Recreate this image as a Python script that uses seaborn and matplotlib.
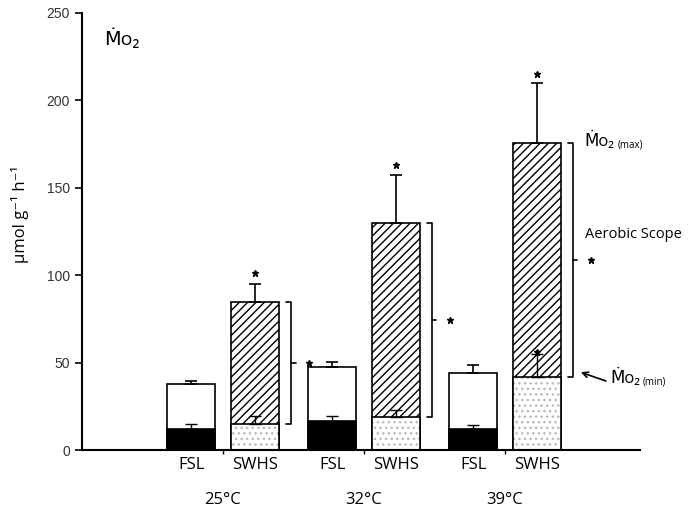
import numpy as np
import pandas as pd
import seaborn as sns
import matplotlib.pyplot as plt
from matplotlib.colors import to_rgba

temps = ['25°C', '32°C', '39°C']
groups = ['FSL', 'SWHS']

# MO2 max (top of bar) and min (lower segment), with SE
fsl_max = [37.6, 47.7, 44.2]
fsl_max_err = [1.9, 2.8, 4.4]
fsl_min = [11.8, 16.4, 11.8]
fsl_min_err = [3.1, 2.9, 2.5]
swhs_max = [84.5, 129.7, 175.5]
swhs_max_err = [10.3, 27.6, 34.3]
swhs_min = [14.9, 19.0, 42.0]
swhs_min_err = [4.7, 3.9, 13.0]
swhs_star = [101, 163, 215]

sns.set_style('ticks')
plt.rcParams['font.family'] = ['Open Sans', 'DejaVu Sans']
plt.rcParams['hatch.linewidth'] = 1.0
plt.rcParams['text.color'] = 'black'

off = 0.225
pos = []
for g in range(3):
    pos += [g - off, g + off]

df_max = pd.DataFrame({'x': pos, 'y': [v for p in zip(fsl_max, swhs_max) for v in p]})
df_min = pd.DataFrame({'x': pos, 'y': [v for p in zip(fsl_min, swhs_min) for v in p]})
err_max = [v for p in zip(fsl_max_err, swhs_max_err) for v in p]
err_min = [v for p in zip(fsl_min_err, swhs_min_err) for v in p]

fig = plt.figure(figsize=(7, 5.15), dpi=100)
ax = fig.add_axes([0.117, 0.126, 0.797, 0.849])

w = 0.755
sns.barplot(data=df_max, x='x', y='y', native_scale=True, width=w, color='white',
            edgecolor='black', linewidth=1.2, errorbar=None, ax=ax)
n = len(ax.patches)
for i, p in enumerate(ax.patches):
    p.set_facecolor('white')
    p.set_edgecolor('black')
    if i % 2 == 1:
        p.set_hatch('////')

sns.barplot(data=df_min, x='x', y='y', native_scale=True, width=w, color='white',
            edgecolor='black', linewidth=1.2, errorbar=None, ax=ax)
for i, p in enumerate(ax.patches[n:]):
    p.set_edgecolor('black')
    if i % 2 == 0:
        p.set_facecolor('black')
    else:
        p.set_facecolor('white')
        p.set_hatch('...')
        if hasattr(p, 'set_hatchcolor'):
            p.set_hatchcolor('#b8b8b8')
        else:
            p._hatch_color = to_rgba('#b8b8b8')

ax.errorbar(pos, df_max['y'], yerr=[np.zeros(6), err_max], fmt='none', ecolor='black',
            elinewidth=1.2, capsize=4, capthick=1.2, zorder=5)
ax.errorbar(pos, df_min['y'], yerr=[np.zeros(6), err_min], fmt='none', ecolor='black',
            elinewidth=1.0, capsize=4, capthick=1.0, zorder=5)

# significance stars above SWHS bars
swhs_pos = pos[1::2]
ax.plot(swhs_pos, swhs_star, ls='none', marker='*', ms=5, color='black')
ax.plot([swhs_pos[2]], [swhs_min[2] + 14], ls='none', marker='*', ms=4.5, color='black')

# brackets for aerobic scope
bw = 0.34
for x, lo, hi in zip(swhs_pos, swhs_min, swhs_max):
    bx = x + bw / 2 + 0.085
    ax.plot([bx - 0.035, bx, bx, bx - 0.035], [hi, hi, lo, lo], color='black', lw=1.2)
    mid = (lo + hi) / 2
    ax.plot([bx, bx + 0.035], [mid, mid], color='black', lw=1.2)
    ax.plot([bx + 0.13], [mid], marker='*', ms=4.5, color='black')

ax.set_xlim(-1.0, 2.957)
ax.set_ylim(0, 250)
ax.set_yticks([0, 50, 100, 150, 200, 250])
ax.set_yticklabels(['0', '50', '100', '150', '200', '250'], family='Liberation Sans',
                   fontsize=10, color='#333333')
ax.set_xticks([0, 1, 2])
ax.set_xticklabels([])
ax.tick_params(axis='x', length=3, width=1, color='black')
ax.tick_params(axis='y', length=5, width=1.2, color='black')
ax.set_xlabel('')
ax.set_ylabel('μmol g⁻¹ h⁻¹', fontsize=12, color='black')
ax.yaxis.set_label_coords(-0.095, 0.54)
sns.despine(ax=ax)
for s in ['left', 'bottom']:
    ax.spines[s].set_linewidth(1.5)
    ax.spines[s].set_color('black')

trans = ax.get_xaxis_transform()
for x, lab in zip(pos, groups * 3):
    ax.annotate(lab, (x, 0), xycoords=trans, xytext=(0, -15), textcoords='offset pixels',
                ha='center', va='center', fontsize=12)
for g, t in enumerate(temps):
    ax.annotate(t, (g, 0), xycoords=trans, xytext=(0, -50), textcoords='offset pixels',
                ha='center', va='center', fontsize=12)

ax.text(-0.84, 235, 'Ṁo₂', fontsize=14, va='center')

ax.text(2.567, swhs_max[2] + 1, 'Ṁo₂', fontsize=12, va='center')
ax.annotate('(max)', (2.567, swhs_max[2] + 1), xytext=(33, -4), textcoords='offset pixels',
            fontsize=7, va='center')
ax.text(2.567, 123, 'Aerobic Scope', fontsize=10.5, va='center')
ax.annotate('', xy=(2.52, swhs_min[2] + 3), xytext=(2.735, swhs_min[2] - 3),
            arrowprops=dict(arrowstyle='->', color='black', lw=1.2))
ax.text(2.745, swhs_min[2] - 1, 'Ṁo₂', fontsize=12, va='center')
ax.annotate('(min)', (2.745, swhs_min[2] - 1), xytext=(33, -4), textcoords='offset pixels',
            fontsize=7, va='center')

fig.savefig('out.png', dpi=100)
